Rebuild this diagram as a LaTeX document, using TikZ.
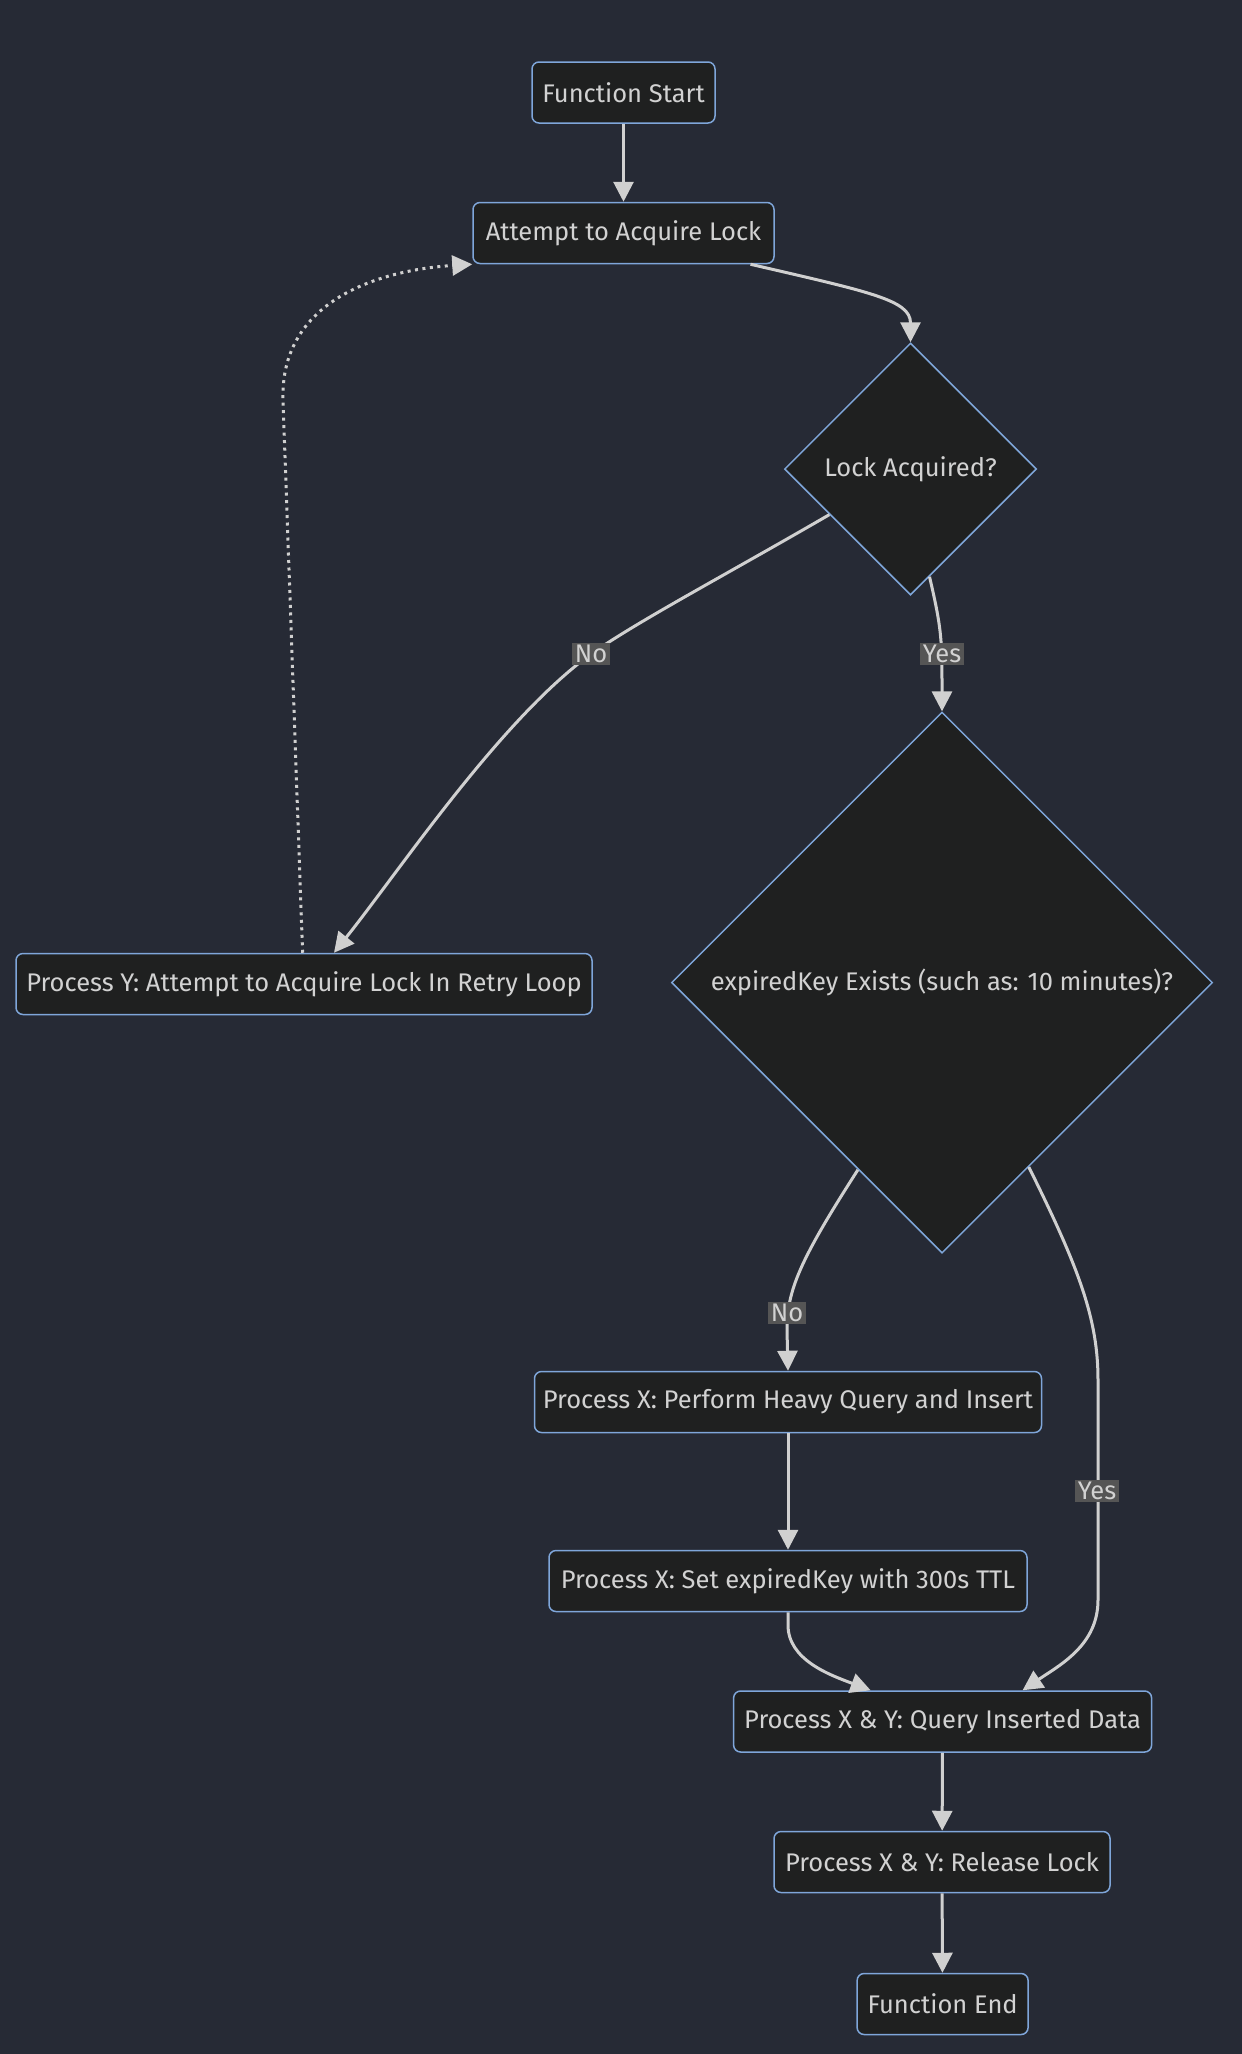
\documentclass[tikz,border=0pt]{standalone}
\usepackage{fontspec}
\setmainfont{Fira Sans}
\usetikzlibrary{shapes.geometric,arrows.meta,calc}
\definecolor{bg}{HTML}{262A35}
\definecolor{nodefill}{HTML}{1F2020}
\definecolor{nodeline}{HTML}{7FA6DA}
\definecolor{txt}{HTML}{D2D2D2}
\definecolor{edgec}{HTML}{D0D0D0}
\definecolor{lblbg}{HTML}{555555}
\begin{document}
\begin{tikzpicture}[x=1pt,y=-1pt,
  txtfont/.style={font=\fontsize{25.5}{28}\selectfont},
  box/.style={draw=nodeline, fill=nodefill, line width=1.5pt, rounded corners=7pt,
    text=txt, txtfont, minimum height=61pt, inner sep=0pt},
  dia/.style={diamond, aspect=1, draw=nodeline, fill=nodefill, line width=1.5pt,
    text=txt, txtfont, inner sep=0pt},
  arr/.style={draw=edgec, line width=3pt, -{Triangle[length=20pt,width=20pt]}},
  lbl/.style={fill=lblbg, text=txt, txtfont, inner sep=2.5pt}
]
\fill[bg] (0,0) rectangle (1242,2054);

\node[box, minimum width=183pt] (start) at (623.5,92.5) {Function Start};
\node[box, minimum width=301pt] (attempt) at (623.5,233) {Attempt to Acquire Lock};
\node[dia, minimum width=252pt, minimum height=252pt] (lock) at (910.5,469) {Lock Acquired?};
\node[dia, minimum width=541pt, minimum height=541pt] (exp) at (942,982.6) {expiredKey Exists (such as: 10 minutes)?};
\node[box, minimum width=576pt] (procy) at (304,984) {Process Y: Attempt to Acquire Lock In Retry Loop};
\node[box, minimum width=507pt] (heavy) at (788,1402) {Process X: Perform Heavy Query and Insert};
\node[box, minimum width=478pt] (setkey) at (788,1581) {Process X: Set expiredKey with 300s TTL};
\node[box, minimum width=418pt] (query) at (942.6,1721.5) {Process X \& Y: Query Inserted Data};
\node[box, minimum width=336pt] (release) at (942,1862) {Process X \& Y: Release Lock};
\node[box, minimum width=171pt] (fend) at (942.6,2004) {Function End};

% edges
\draw[arr] (start) -- (attempt);
\draw[arr] ($(attempt.south)+(127,0)$) .. controls (870,292) and (910.5,300) .. (lock.north);
\draw[arr] ($(lock.west)!0.36!(lock.south)$) .. controls (720,578) and (640,620) .. (591,654)
   .. controls (500,720) and (400,870) .. ($(procy.north)+(30,0)$);
\draw[arr] ($(lock.south)!0.15!(lock.east)$) .. controls (942,630) and (942,640) .. (exp.north);
\draw[arr, dash pattern=on 3pt off 4.5pt] ($(procy.north)+(-1.4,0)$) -- (283,400)
   .. controls (280,300) and (380,270) .. (attempt.south west);
\draw[arr] ($(exp.west)!0.69!(exp.south)$) .. controls (800,1260) and (787,1290) .. (787,1330) -- (heavy.north);
\draw[arr] ($(exp.east)!0.68!(exp.south)$) .. controls (1080,1270) and (1098,1320) .. (1098,1380)
   -- (1098,1600) .. controls (1098,1645) and (1060,1665) .. ($(query.north)+(80,0)$);
\draw[arr] (heavy) -- (setkey);
\draw[arr] (setkey.south) -- (788,1625) .. controls (788,1660) and (830,1675) .. ($(query.north)+(-72,0)$);
\draw[arr] (query) -- (release);
\draw[arr] (release) -- (fend);

% labels
\node[lbl] (l1) at (591,654) {No};
\node[lbl] (l2) at (942,654) {Yes};
\node[lbl] (l3) at (787,1313) {No};
\node[lbl] (l4) at (1097,1491) {Yes};
\end{tikzpicture}
\end{document}
